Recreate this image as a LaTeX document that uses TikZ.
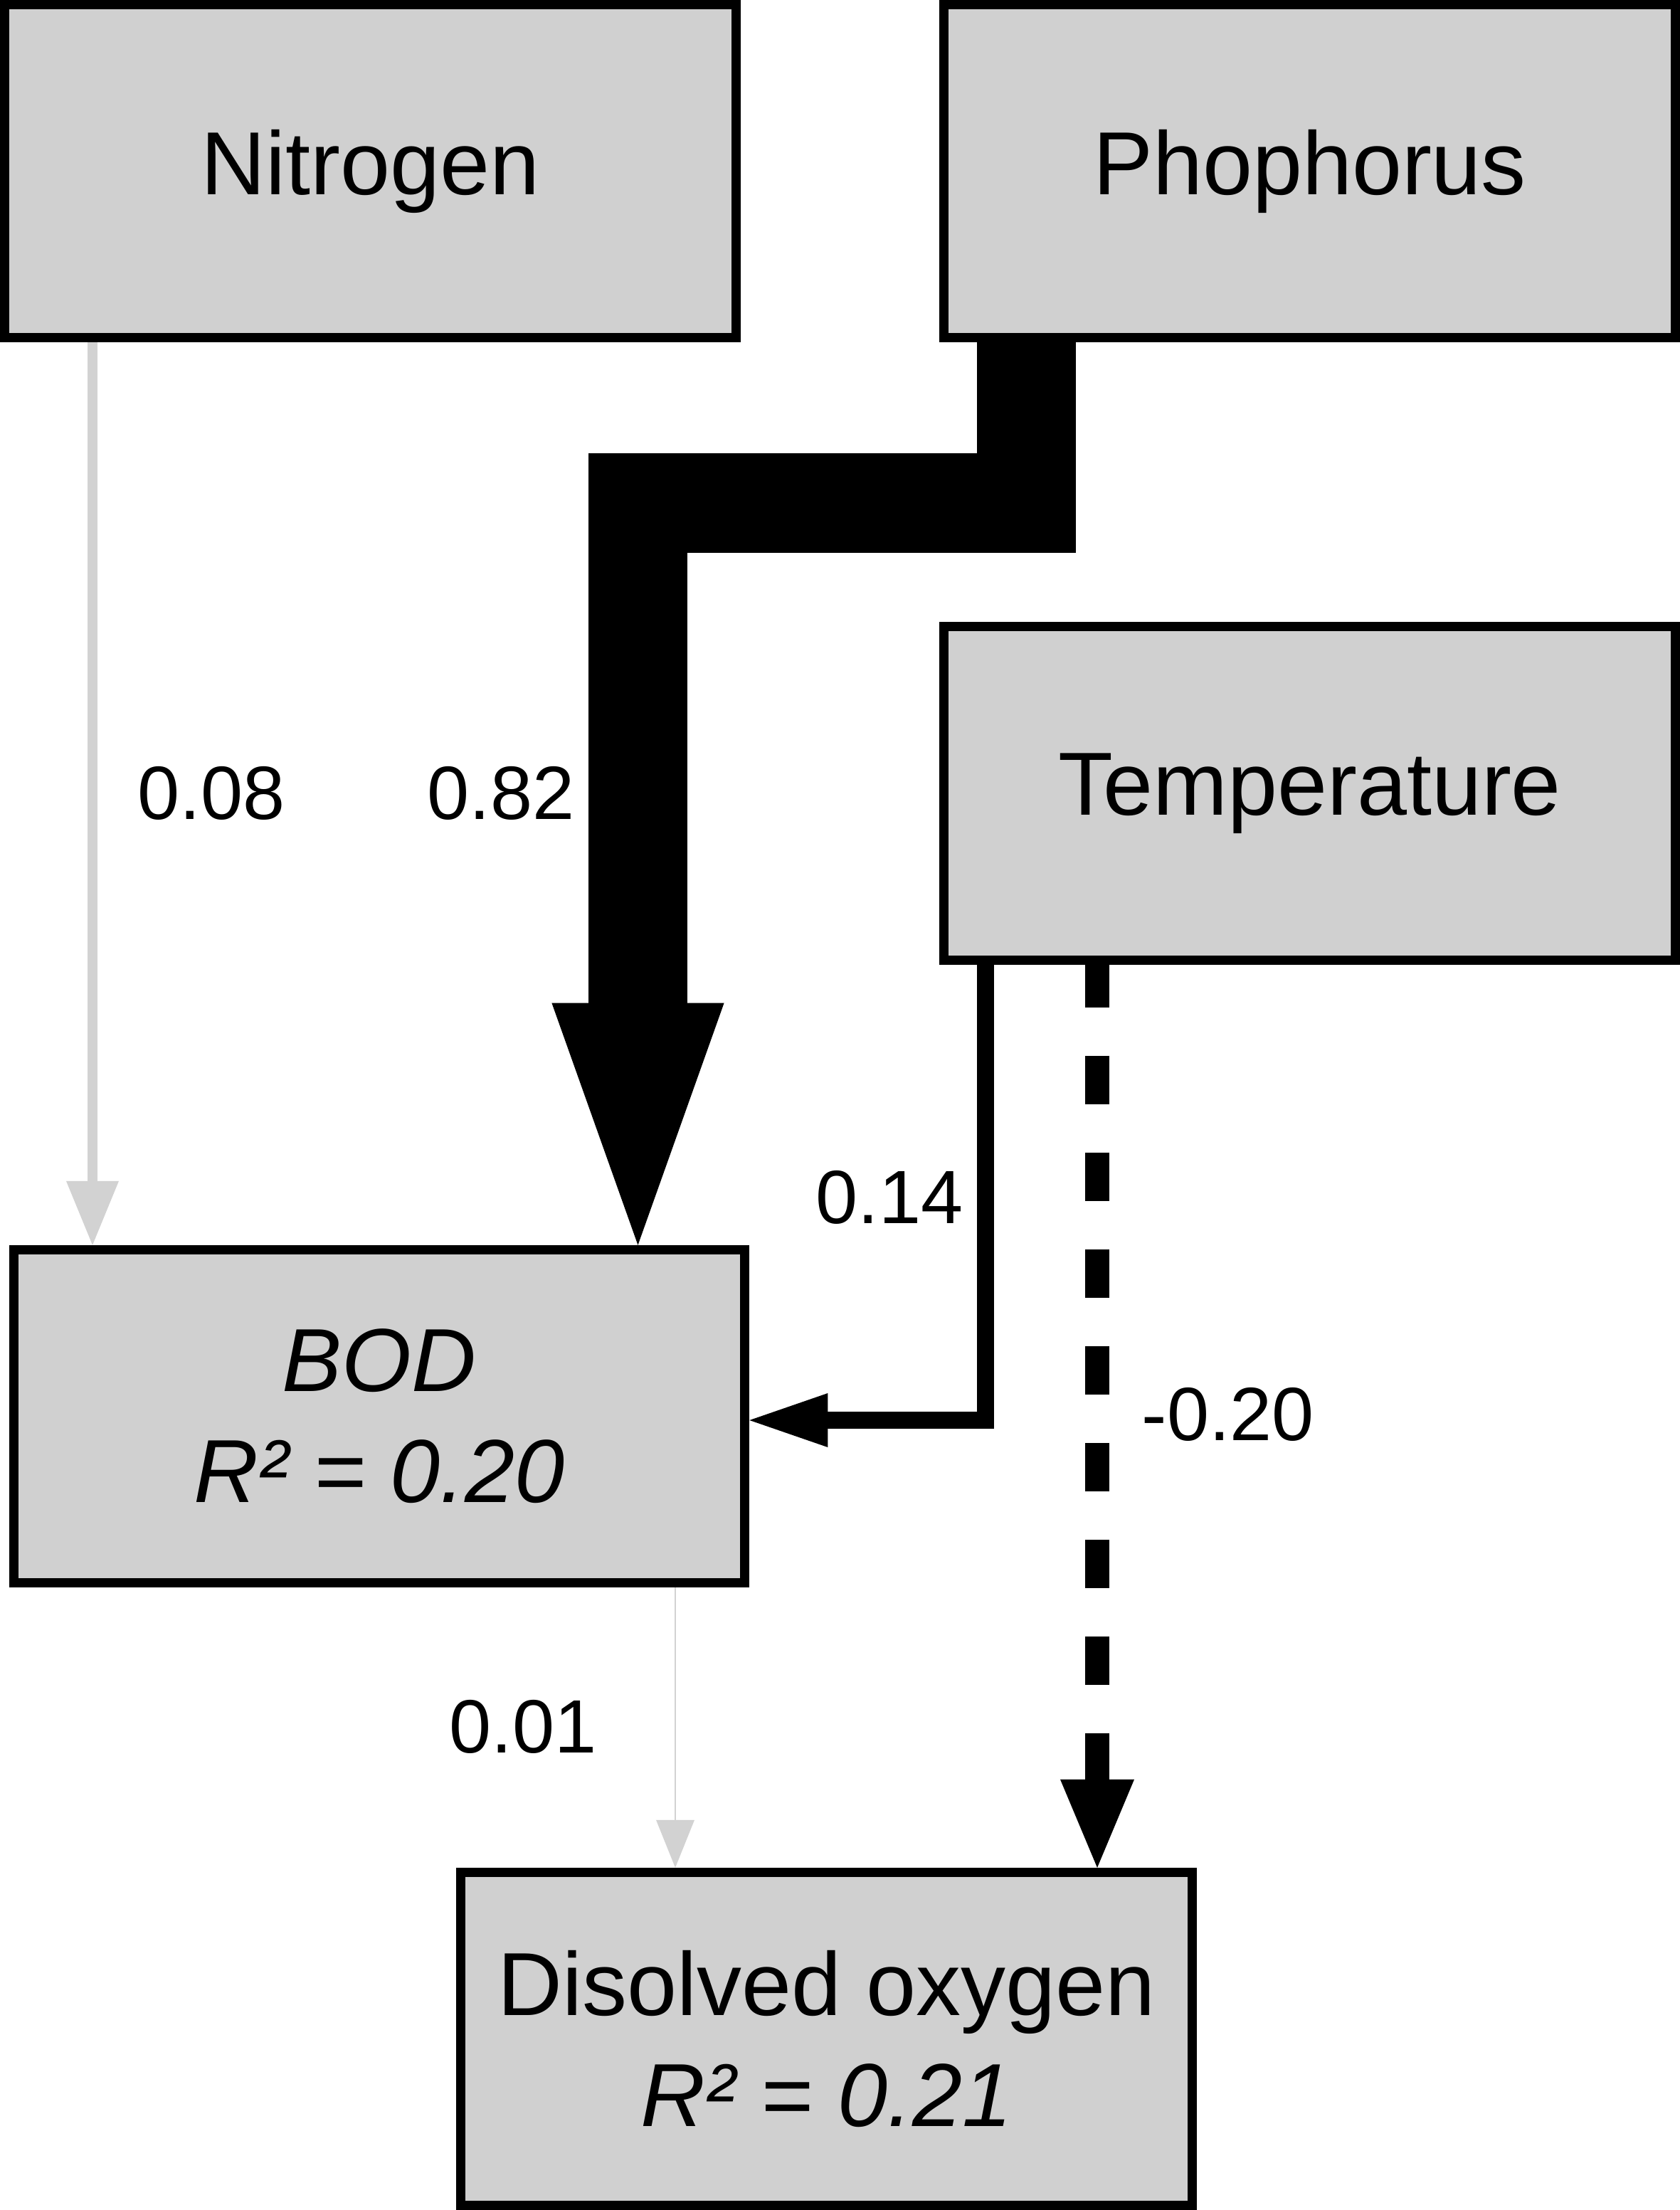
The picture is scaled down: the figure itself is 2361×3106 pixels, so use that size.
\documentclass[tikz,border=0pt]{standalone}
\usepackage{fontspec}
\setmainfont{Liberation Sans}
\usetikzlibrary{arrows.meta}
\definecolor{boxgray}{RGB}{208,208,208}
\definecolor{linegray}{RGB}{210,210,210}
\begin{document}
\begin{tikzpicture}[x=0.01cm,y=-0.01cm,
  varbox/.style={draw=black, fill=boxgray, line width=0.13cm,
    minimum width=10.27cm, minimum height=4.68cm, inner sep=0pt,
    align=center, font=\fontsize{35.8pt}{44.4pt}\selectfont},
  coef/.style={inner sep=0pt, font=\fontsize{30.2pt}{36pt}\selectfont},
  grayarrow/.style={draw=linegray, line width=0.14cm,
    -{Triangle[length=0.9cm,width=0.74cm,line width=0pt]}},
  bigarrow/.style={draw=black, line width=1.39cm, line join=miter,
    -{Triangle[length=3.4cm,width=2.42cm,line width=0pt]}},
  midarrow/.style={draw=black, line width=0.24cm, line join=miter,
    -{Triangle[length=1.1cm,width=0.76cm,line width=0pt]}},
  dasharrow/.style={draw=black, line width=0.34cm,
    dash pattern=on 0.68cm off 0.68cm, dash phase=0.08cm,
    -{Triangle[length=1.24cm,width=1.04cm,line width=0pt]}},
  thinarrow/.style={draw=linegray, line width=0.02cm,
    -{Triangle[length=0.67cm,width=0.54cm,line width=0pt]}}
]
\useasboundingbox (0,0) rectangle (2361,3106);

% boxes
\node[varbox] (Nitrogen)    at (520.5,240.5)  {Nitrogen};
\node[varbox] (Phosphorus)  at (1840.5,240.5) {Phophorus};
\node[varbox] (Temperature) at (1840.5,1115)  {Temperature};
\node[varbox] (BOD)         at (533,1990.5)   {\itshape BOD\\\itshape R² = 0.20};
\node[varbox] (DO)          at (1161.5,2865.5){Disolved oxygen\\\itshape R² = 0.21};

% helper coordinates
\coordinate (xN) at (130,0);
\coordinate (xP) at (1442.5,0);
\coordinate (yP) at (0,707);
\coordinate (xB) at (896.5,0);
\coordinate (xT) at (1385,0);
\coordinate (yT) at (0,1996);
\coordinate (xD) at (1542,0);
\coordinate (xO) at (949,0);

% connectors
\draw[grayarrow] (Nitrogen.south -| xN) -- (BOD.north -| xN);
\draw[bigarrow] (Phosphorus.south -| xP) -- (xP |- yP) -- (xB |- yP) -- (BOD.north -| xB);
\draw[midarrow] (Temperature.south -| xT) -- (xT |- yT) -- (BOD.east |- yT);
\draw[dasharrow] (Temperature.south -| xD) -- (DO.north -| xD);
\draw[thinarrow] (BOD.south -| xO) -- (DO.north -| xO);

% coefficients
\node[coef] (c08) at (297,1115)  {0.08};
\node[coef] (c82) at (704,1115)  {0.82};
\node[coef] (c14) at (1250,1683) {0.14};
\node[coef] (c20) at (1726,1988) {-0.20};
\node[coef] (c01) at (735,2427)  {0.01};
\end{tikzpicture}
\end{document}
